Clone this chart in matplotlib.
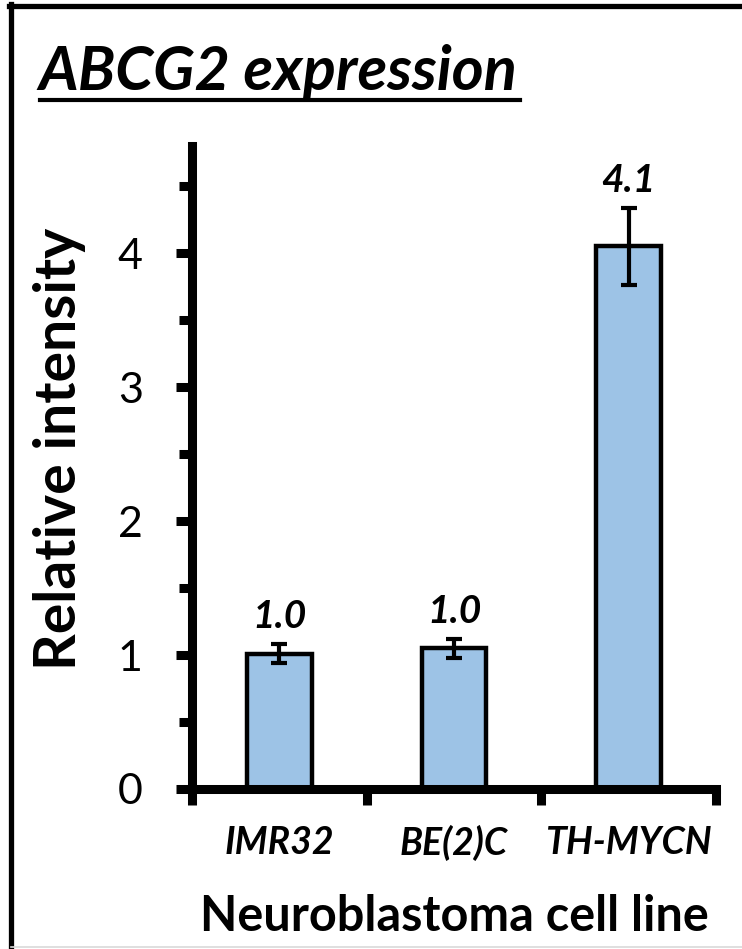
import matplotlib
matplotlib.use("Agg")
import matplotlib.pyplot as plt
from matplotlib.lines import Line2D
from matplotlib.ticker import MultipleLocator, FixedLocator, FixedFormatter

plt.rcParams['font.family'] = ['Lato', 'DejaVu Sans']

categories = ['IMR32', 'BE(2)C', 'TH-MYCN']
values = [1.01, 1.05, 4.05]
errors = [0.07, 0.07, 0.29]
labels = ['1.0', '1.0', '4.1']
yticks = [0, 1, 2, 3, 4]

W, H = 742, 949
fig = plt.figure(figsize=(W / 100, H / 100), dpi=100)
ax = fig.add_axes([192 / W, 1 - 789 / H, (716 - 192) / W, (789 - 146) / H])

x = list(range(len(categories)))
ax.bar(x, values, width=0.37, color='#9DC3E6', edgecolor='black', linewidth=3.2, zorder=2)
ax.errorbar(x, values, yerr=errors, fmt='none', ecolor='black', elinewidth=3,
            capsize=5.5, capthick=3, zorder=3)
for xi, v, e, lab in zip(x, values, errors, labels):
    ax.text(xi, v + e + 0.12, lab, ha='center', va='baseline', fontsize=28,
            fontweight='bold', fontstyle='italic')

ax.set_xlim(-0.5, 2.5)
ax.set_ylim(0, 4.8)
ax.set_yticks(yticks)
ax.set_yticklabels([str(t) for t in yticks], fontsize=31)
ax.yaxis.set_minor_locator(MultipleLocator(0.5))
ax.tick_params(axis='y', which='major', length=11.5, width=6.5, direction='out', pad=24)
ax.tick_params(axis='y', which='minor', length=9.4, width=6.5, direction='out')

ax.xaxis.set_major_locator(FixedLocator([-0.5, 0.5, 1.5, 2.5]))
ax.xaxis.set_major_formatter(FixedFormatter(['', '', '', '']))
ax.xaxis.set_minor_locator(FixedLocator(x))
ax.xaxis.set_minor_formatter(FixedFormatter(categories))
ax.tick_params(axis='x', which='major', length=11.5, width=6.5, direction='out')
ax.tick_params(axis='x', which='minor', length=0, pad=26, labelsize=27)
for t in ax.xaxis.get_minorticklabels():
    t.set_fontweight('bold')
    t.set_fontstyle('italic')

for s in ['top', 'right']:
    ax.spines[s].set_visible(False)
for s in ['left', 'bottom']:
    ax.spines[s].set_linewidth(6.5)
    ax.spines[s].set_capstyle('projecting')

fig.text(76 / W, 1 - 449 / H, 'Relative intensity', fontsize=41, fontweight='bold',
         rotation=90, rotation_mode='anchor', ha='center', va='baseline')
fig.text(454 / W, 1 - 931 / H, 'Neuroblastoma cell line', fontsize=35,
         fontweight='bold', ha='center', va='baseline')

ty = 1 - 90 / H
fig.text(38 / W, ty, 'ABCG2 expression', fontsize=44, fontweight='bold',
         fontstyle='italic', ha='left', va='baseline')
uy = 1 - 100 / H
fig.add_artist(Line2D([40 / W, 520 / W], [uy, uy], transform=fig.transFigure,
                      color='black', linewidth=3))

# figure frame (left and top black, faint bottom)
fig.add_artist(Line2D([11 / W, 11 / W], [0, 1 - 4 / H], transform=fig.transFigure,
                      color='black', linewidth=3.8))
fig.add_artist(Line2D([9 / W, 1], [1 - 6 / H, 1 - 6 / H], transform=fig.transFigure,
                      color='black', linewidth=3.8))
fig.add_artist(Line2D([11 / W, 1], [1 - 947 / H, 1 - 947 / H], transform=fig.transFigure,
                      color='#d9d9d9', linewidth=1.2))

fig.savefig('out.png', dpi=100)
